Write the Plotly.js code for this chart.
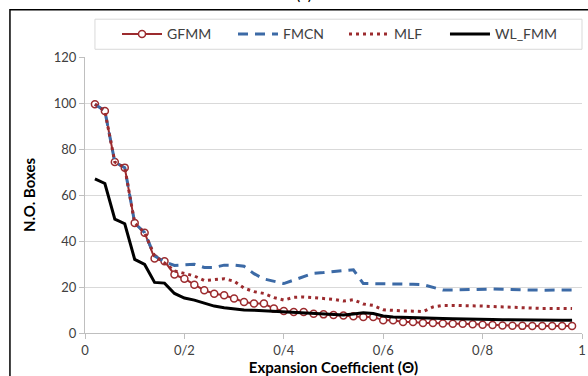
<!DOCTYPE html>
<html>
<head>
<meta charset="utf-8">
<script src="https://cdn.plot.ly/plotly-3.0.1.min.js"></script>
<style>html,body{margin:0;padding:0;background:#fff;}#chart{width:588px;height:376px;}</style>
</head>
<body>
<div id="chart"></div>
<script>
const xValues = [0.02,0.04,0.06,0.08,0.10,0.12,0.14,0.16,0.18,0.20,0.22,0.24,0.26,0.28,0.30,0.32,0.34,0.36,0.38,0.40,0.42,0.44,0.46,0.48,0.50,0.52,0.54,0.56,0.58,0.60,0.62,0.64,0.66,0.68,0.70,0.72,0.74,0.76,0.78,0.80,0.82,0.84,0.86,0.88,0.90,0.92,0.94,0.96,0.98];

const gfmm = [99.5,96.5,74.3,71.9,47.8,43.6,32.4,31.2,25.4,23.6,21.0,18.6,17.1,16.4,15.0,13.5,12.8,12.8,10.6,9.6,9.1,9.1,8.4,8.1,7.8,7.6,7.3,7.0,7.0,5.5,5.5,4.8,4.8,4.4,4.4,4.1,4.0,4.0,3.8,3.6,3.5,3.3,3.2,3.1,3.0,3.0,3.0,3.0,3.0];

const fmcn = [99.5,96.5,74.3,71.9,47.8,43.6,33.5,31.0,29.4,29.5,29.9,28.5,28.5,29.5,29.5,29.0,25.8,23.5,22.5,21.5,23.0,24.5,26.0,26.3,26.6,27.2,27.5,21.5,21.5,21.5,21.3,21.3,21.2,21.0,19.8,18.7,18.7,18.8,19.0,19.2,19.1,19.0,19.0,18.8,18.7,18.6,18.6,18.6,18.7];

const mlf = [99.5,96.5,74.3,71.9,47.8,43.6,33.5,30.5,27.0,25.8,24.8,22.8,23.3,23.6,22.5,19.5,18.0,17.2,15.4,14.3,15.5,15.7,15.4,15.1,14.6,13.9,14.5,12.6,12.0,10.1,9.7,9.6,9.5,9.3,11.3,12.0,12.0,12.0,11.8,11.7,11.5,11.3,11.2,11.0,10.8,10.7,10.7,10.7,10.6];

const wlfmm = [67.0,65.0,49.5,47.5,32.0,29.8,22.0,21.7,17.2,15.2,14.3,12.9,11.7,11.0,10.4,10.0,9.9,9.7,9.4,9.2,9.0,8.8,8.6,8.3,8.0,7.8,8.3,8.8,8.5,7.4,7.0,6.8,6.6,6.5,6.4,6.3,6.2,6.2,6.1,6.0,5.9,5.8,5.7,5.7,5.6,5.6,5.5,5.5,5.5];

const seriesNames = ['GFMM','FMCN','MLF','WL_FMM'];
const xTickVals = [0,0.2,0.4,0.6,0.8,1];
const xTickText = ['0','0/2','0/4','0/6','0/8','1'];
const yTickVals = [0,20,40,60,80,100,120];

const red = '#9c2b2e';
const blue = '#3c6aa6';
const FONT = 'Lato, "Open Sans", sans-serif';

const traces = [
  {x: xValues, y: gfmm, name: seriesNames[0], legend: 'legend', type: 'scatter', mode: 'lines+markers',
   line: {color: red, width: 2},
   marker: {symbol: 'circle', size: 7, color: '#ffffff', line: {color: red, width: 1.5}}},
  {x: xValues, y: fmcn, name: seriesNames[1], legend: 'legend2', type: 'scatter', mode: 'lines',
   line: {color: blue, width: 3, dash: '10px,7px'}},
  {x: xValues, y: mlf, name: seriesNames[2], legend: 'legend3', type: 'scatter', mode: 'lines',
   line: {color: red, width: 3, dash: '3px,4px'}},
  {x: xValues, y: wlfmm, name: seriesNames[3], legend: 'legend4', type: 'scatter', mode: 'lines',
   line: {color: '#000000', width: 3}}
];

function legendAt(xp) {
  return {orientation: 'h', x: xp, xanchor: 'left', y: 1.082, yanchor: 'middle',
          bgcolor: 'rgba(0,0,0,0)', borderwidth: 0, itemwidth: 40,
          font: {family: FONT, size: 14, color: '#404040'}};
}

const layout = {
  width: 588, height: 376,
  margin: {l: 85, r: 6, t: 57, b: 43},
  paper_bgcolor: '#ffffff', plot_bgcolor: '#ffffff',
  font: {family: FONT, size: 13, color: '#404040'},
  showlegend: true,
  legend: legendAt(0.0644),
  legend2: legendAt(0.2978),
  legend3: legendAt(0.5211),
  legend4: legendAt(0.7243),
  xaxis: {range: [0, 1], tickvals: xTickVals, ticktext: xTickText,
          showgrid: false, zeroline: false, showline: true, linecolor: '#bfbfbf', linewidth: 1,
          ticks: 'outside', ticklen: 5, tickcolor: '#bfbfbf',
          tickfont: {family: FONT, size: 13, color: '#404040'},
          title: {text: '<b>Expansion Coefficient (Θ)</b>', font: {family: FONT, size: 15, color: '#000000'}, standoff: 2}},
  yaxis: {range: [0, 120], tickvals: yTickVals,
          showgrid: true, gridcolor: '#d9d9d9', gridwidth: 1, zeroline: false,
          showline: true, linecolor: '#bfbfbf', linewidth: 1,
          ticks: 'outside', ticklen: 5, tickcolor: '#bfbfbf',
          tickfont: {family: FONT, size: 13, color: '#404040'},
          title: {text: '<b>N.O. Boxes</b>', font: {family: FONT, size: 15, color: '#000000'}, standoff: 14}},
  shapes: [
    {type: 'rect', xref: 'paper', yref: 'paper', x0: 0.02, x1: 1.0, y0: 1.028, y1: 1.137,
     line: {color: '#d9d9d9', width: 1}, fillcolor: 'rgba(0,0,0,0)'},
    {type: 'rect', xref: 'paper', yref: 'paper', x0: -0.151, x1: 1.3, y0: -0.6, y1: 1.171,
     line: {color: '#000000', width: 1.5}, fillcolor: 'rgba(0,0,0,0)'}
  ],
  annotations: [
    {text: '(a)', xref: 'paper', yref: 'paper', x: 0.44, y: 1.19, xanchor: 'center', yanchor: 'bottom',
     showarrow: false, font: {family: FONT, size: 16, color: '#000000'}}
  ]
};

Plotly.newPlot('chart', traces, layout, {displayModeBar: false, staticPlot: true});
</script>
</body>
</html>
